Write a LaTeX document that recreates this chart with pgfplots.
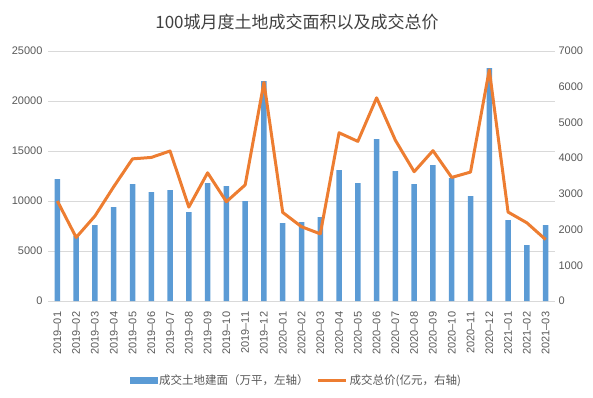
\documentclass[border=0pt]{standalone}
\usepackage{fontspec}
\setmainfont{Liberation Sans}
\newfontfamily\cjk{Noto Sans CJK SC}
\usepackage{pgfplots}
\usepackage{pgfplotstable}
\pgfplotsset{compat=1.18}
\definecolor{barblue}{HTML}{5B9BD5}
\definecolor{lineorange}{HTML}{ED7D31}
\definecolor{gridgray}{HTML}{D9D9D9}
\definecolor{ticktext}{HTML}{595959}
\definecolor{titletext}{HTML}{404040}

\pgfplotstableread{
idx area price
0 12200 2800
1 6500 1780
2 7600 2380
3 9400 3200
4 11700 3980
5 10900 4020
6 11100 4200
7 8900 2630
8 11800 3590
9 11500 2780
10 10000 3250
11 22000 6120
12 7800 2480
13 7900 2080
14 8400 1880
15 13100 4710
16 11800 4470
17 16200 5690
18 13000 4500
19 11700 3620
20 13600 4210
21 12300 3460
22 10500 3610
23 23300 6470
24 8100 2490
25 5600 2190
26 7600 1720
}\datatable

\pgfplotsset{
  common/.style={
    at={(48pt,96pt)}, anchor=south west,
    scale only axis, width=507pt, height=250pt,
    xmin=-0.5, xmax=26.5,
    ymin=0,
    tick style={draw=none},
    tick label style={font=\fontsize{11}{13}\selectfont, text=ticktext},
    /pgf/number format/assume math mode=true,
    /pgf/number format/set thousands separator={},
    scaled y ticks=false,
  }
}

\begin{document}
\begin{tikzpicture}
\useasboundingbox (0,0) rectangle (593pt,397pt);
\node[font=\cjk\fontsize{17}{20}\selectfont, text=titletext] at (297pt,375pt) {100城月度土地成交面积以及成交总价};

\begin{axis}[
  common,
  ymax=25000,
  ytick={0,5000,10000,15000,20000,25000},
  axis y line*=left,
  y axis line style={draw=none},
  ymajorgrids, grid style={gridgray, line width=0.9pt},
  yticklabel style={xshift=-2pt},
  axis x line*=bottom,
  x axis line style={draw=gridgray, line width=0.9pt, -},
  xtick={0,...,26},
  xticklabels={2019--01,2019--02,2019--03,2019--04,2019--05,2019--06,2019--07,2019--08,2019--09,2019--10,2019--11,2019--12,2020--01,2020--02,2020--03,2020--04,2020--05,2020--06,2020--07,2020--08,2020--09,2020--10,2020--11,2020--12,2021--01,2021--02,2021--03},
  xticklabel style={rotate=90, anchor=east, xshift=-3pt},
  ybar, bar width=5.5pt,
]
\addplot[fill=barblue, draw=none] table[x=idx, y=area] {\datatable};
\end{axis}

\begin{axis}[
  common,
  hide x axis,
  ymax=7000,
  ytick={0,1000,2000,3000,4000,5000,6000,7000},
  axis y line*=right,
  y axis line style={draw=none},
  legend columns=2,
  legend style={draw=none, fill=none, at={(0.49,-0.316)}, anchor=center,
    font=\cjk\fontsize{11.5}{13}\selectfont, text=ticktext,
    /tikz/every even column/.append style={column sep=6pt}},
]
\addlegendimage{legend image code/.code={\fill[barblue] (0pt,-3pt) rectangle (27pt,3pt);}}
\addlegendentry{成交土地建面（万平，左轴）}
\addplot[lineorange, line width=3pt, line join=round, legend image code/.code={\draw[lineorange, line width=3pt] (0pt,0pt) -- (28pt,0pt);}] table[x=idx, y=price] {\datatable};
\addlegendentry{成交总价(亿元，右轴)}
\end{axis}
\end{tikzpicture}
\end{document}
